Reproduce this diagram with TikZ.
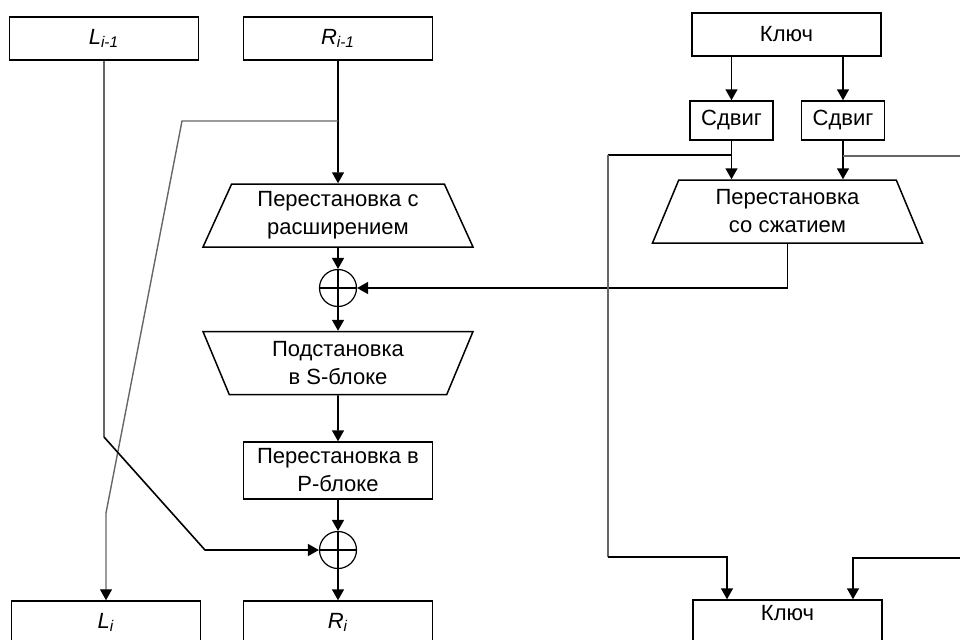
\documentclass[tikz,border=0pt]{standalone}
\usepackage{fontspec}
\setmainfont{Liberation Sans}
\usetikzlibrary{arrows.meta,shapes.geometric,calc}

\begin{document}
\begin{tikzpicture}[x=0.5pt, y=-0.5pt, font=\fontsize{11}{14}\selectfont, >={Triangle[length=5.5pt,width=6pt,color=black]},
box/.style={draw, line width=0.75pt, minimum width=94.5pt, minimum height=21.5pt, inner sep=1pt, align=center},
shiftbox/.style={draw, line width=0.75pt, minimum width=41.5pt, minimum height=19.5pt, inner sep=1pt},
perm/.style={draw, line width=0.75pt, trapezium, trapezium angle=61, trapezium stretches body, minimum width=135pt, minimum height=31.5pt, align=center, inner sep=1pt},
xor/.style={draw, circle, line width=0.6pt, minimum size=18.5pt, inner sep=0pt,
  path picture={\draw[line width=0.6pt] (path picture bounding box.north) -- (path picture bounding box.south)
    (path picture bounding box.west) -- (path picture bounding box.east);}},
wire/.style={line width=0.8pt},
gwire/.style={line width=0.7pt, black!60}]
\useasboundingbox (0,0) rectangle (960,639);
\clip (0,0) rectangle (960,639);
% round input and output halves
\node[box] (Li1) at (104,38.5) {\itshape L\textsubscript{i-1}};
\node[box] (Ri1) at (338,38.5) {\itshape R\textsubscript{i-1}};
\node[perm] (exp) at (338,215.5) {Перестановка с\\расширением};
\node[xor] (x1) at (338,288) {};
\node[perm, shape border rotate=180] (sbox) at (338,363) {Подстановка\\в S-блоке};
\node[box, minimum height=28.5pt] (pbox) at (338,470.5) {Перестановка в\\P-блоке};
\node[xor] (x2) at (338,550) {};
\node[box] (Li) at (106,622.5) {\itshape L\textsubscript{i}};
\node[box] (Ri) at (338,622.5) {\itshape R\textsubscript{i}};
% key schedule
\node[box] (key) at (786.5,34.5) {Ключ};
\node[shiftbox] (shl) at (731.5,120.5) {Сдвиг};
\node[shiftbox] (shr) at (843,120.5) {Сдвиг};
\node[perm] (comp) at (787.5,211.5) {Перестановка\\со сжатием};
\node[box, text depth=9pt] (key2) at (787.5,621.5) {Ключ};
% bends
\coordinate (rb) at (338,121); \coordinate (rb1) at (182,121); \coordinate (rb2) at (106,513);
\coordinate (lb1) at (104,437); \coordinate (lb2) at (205,550);
\coordinate (kl) at (731.5,155); \coordinate (kl1) at (608,155); \coordinate (kl2) at (608,557);
\coordinate (kin1) at (727,557);
\coordinate (kr) at (843,156); \coordinate (edgeT) at (960,156);
\coordinate (edgeB) at (960,558); \coordinate (kin2) at (853,558);
\draw[wire,->] (Ri1) -- (exp); \draw[wire,->] (exp) -- (x1); \draw[wire,->] (x1) -- (sbox);
\draw[wire,->] (sbox) -- (pbox); \draw[wire,->] (pbox) -- (x2); \draw[wire,->] (x2) -- (Ri);
\draw[gwire,->] (rb) -- (rb1) -- (rb2) -- (Li);
\draw[gwire] (Li1) -- (lb1); \draw[wire,->] (lb1) -- (lb2) -- (x2);
\draw[wire,->] (key.south -| shl) -- (shl); \draw[wire,->] (key.south -| shr) -- (shr);
\draw[wire,->] (shl) -- (shl |- comp.north); \draw[wire,->] (shr) -- (shr |- comp.north);
\draw[wire,->] (comp.south) |- (x1);
\draw[wire] (kl) -- (kl1); \draw[gwire] (kl1) -- (kl2); \draw[wire,->] (kl2) -- (kin1) -- (kin1 |- key2.north);
\draw[gwire] (kr) -- (edgeT); \draw[wire,->] (edgeB) -- (kin2) -- (kin2 |- key2.north);
\end{tikzpicture}
\end{document}
